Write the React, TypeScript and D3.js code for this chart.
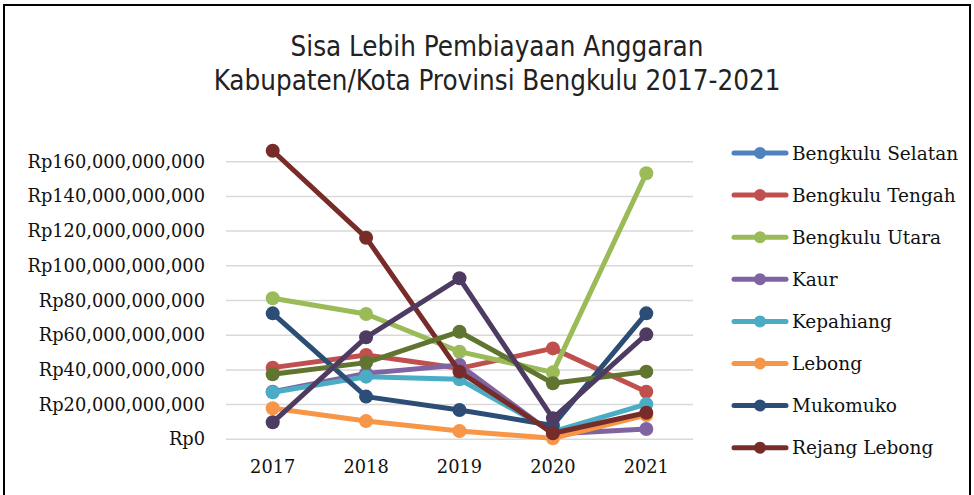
import React, { useEffect, useRef } from 'react';
import * as d3 from 'd3';

const years = ['2017', '2018', '2019', '2020', '2021'];
const yTicks = [0, 20e9, 40e9, 60e9, 80e9, 100e9, 120e9, 140e9, 160e9];

const names = ['Bengkulu Selatan', 'Bengkulu Tengah', 'Bengkulu Utara', 'Kaur', 'Kepahiang',
  'Lebong', 'Mukomuko', 'Rejang Lebong', 'Seluma', 'Kota Bengkulu'];
const colors = ['#4F81BD', '#C0504D', '#9BBB59', '#8064A2', '#4BACC6',
  '#F79646', '#2C4D75', '#772C2A', '#5F7530', '#4D3B62'];

// values in billions of rupiah
const bengkuluSelatan: (number | null)[] = [null, null, null, null, null];
const bengkuluTengah = [41.3, 48.6, 40.9, 52.4, 27.4];
const bengkuluUtara = [81.3, 72.2, 50.5, 38.6, 153.3];
const kaur = [27.4, 38.0, 42.8, 3.0, 5.9];
const kepahiang = [27.1, 36.1, 34.6, 4.4, 20.3];
const lebong = [17.9, 10.5, 4.8, 0.6, 14.0];
const mukomuko = [72.6, 24.6, 16.9, 8.0, 72.6];
const rejangLebong = [166.3, 116.2, 39.0, 3.5, 15.3];
const seluma = [37.5, 44.2, 62.0, 32.3, 39.0];
const kotaBengkulu = [9.8, 58.8, 92.8, 12.1, 60.5];

const series = [bengkuluSelatan, bengkuluTengah, bengkuluUtara, kaur, kepahiang,
  lebong, mukomuko, rejangLebong, seluma, kotaBengkulu];

const legendCount = 8;

export default function App() {
  const ref = useRef<SVGSVGElement>(null);

  useEffect(() => {
    const svg = d3.select(ref.current);
    svg.selectAll('*').remove();

    const left = 226, right = 693, top = 161.7, bottom = 439.3;
    const x = d3.scaleBand().domain(years).range([left, right]);
    const y = d3.scaleLinear().domain([0, 160e9]).range([bottom, top]);
    const serif = '"DejaVu Serif", serif';

    svg.append('rect')
      .attr('x', 4).attr('y', 5).attr('width', 966).attr('height', 500)
      .attr('fill', 'white').attr('stroke', 'black').attr('stroke-width', 2);

    const title = svg.append('text')
      .attr('text-anchor', 'middle')
      .attr('font-family', '"Liberation Sans Narrow", "DejaVu Sans Condensed", sans-serif')
      .attr('font-size', 27.5).attr('fill', '#222');
    title.append('tspan').attr('x', 497).attr('y', 56).text('Sisa Lebih Pembiayaan Anggaran');
    title.append('tspan').attr('x', 497).attr('y', 90).text('Kabupaten/Kota Provinsi Bengkulu 2017-2021');

    svg.append('g').selectAll('line').data(yTicks).join('line')
      .attr('x1', left).attr('x2', right)
      .attr('y1', d => y(d)).attr('y2', d => y(d))
      .attr('stroke', '#D9D9D9').attr('stroke-width', 1.5);

    const fmt = d3.format(',');
    svg.append('g').selectAll('text').data(yTicks).join('text')
      .attr('x', 205).attr('y', d => y(d) + 6)
      .attr('text-anchor', 'end')
      .attr('font-family', serif).attr('font-size', 17.8).attr('fill', '#111')
      .text(d => 'Rp' + fmt(d));

    svg.append('g').selectAll('text').data(years).join('text')
      .attr('x', d => x(d)! + x.bandwidth() / 2).attr('y', 473)
      .attr('text-anchor', 'middle')
      .attr('font-family', serif).attr('font-size', 17.8).attr('fill', '#111')
      .text(d => d);

    const cx = (i: number) => x(years[i])! + x.bandwidth() / 2;
    const line = d3.line<number | null>()
      .defined(d => d != null)
      .x((_, i) => cx(i))
      .y(d => y((d as number) * 1e9));

    series.forEach((vals, s) => {
      const g = svg.append('g');
      g.append('path').datum(vals).attr('d', line)
        .attr('fill', 'none').attr('stroke', colors[s])
        .attr('stroke-width', 5).attr('stroke-linejoin', 'round');
      g.selectAll('circle').data(vals.map((v, i) => ({ v, i })).filter(d => d.v != null)).join('circle')
        .attr('cx', d => cx(d.i)).attr('cy', d => y((d.v as number) * 1e9))
        .attr('r', 7).attr('fill', colors[s]);
    });

    const legend = svg.append('g');
    names.slice(0, legendCount).forEach((n, i) => {
      const ly = 153 + i * 42.1;
      legend.append('line').attr('x1', 734).attr('x2', 786).attr('y1', ly).attr('y2', ly)
        .attr('stroke', colors[i]).attr('stroke-width', 5).attr('stroke-linecap', 'round');
      legend.append('circle').attr('cx', 760).attr('cy', ly).attr('r', 6).attr('fill', colors[i]);
      legend.append('text').attr('x', 792).attr('y', ly + 6.5)
        .attr('font-family', serif).attr('font-size', 18.5).attr('fill', '#111').text(n);
    });
  }, []);

  return <svg ref={ref} width={974} height={495} style={{ position: 'absolute', left: 0, top: 0 }} />;
}
